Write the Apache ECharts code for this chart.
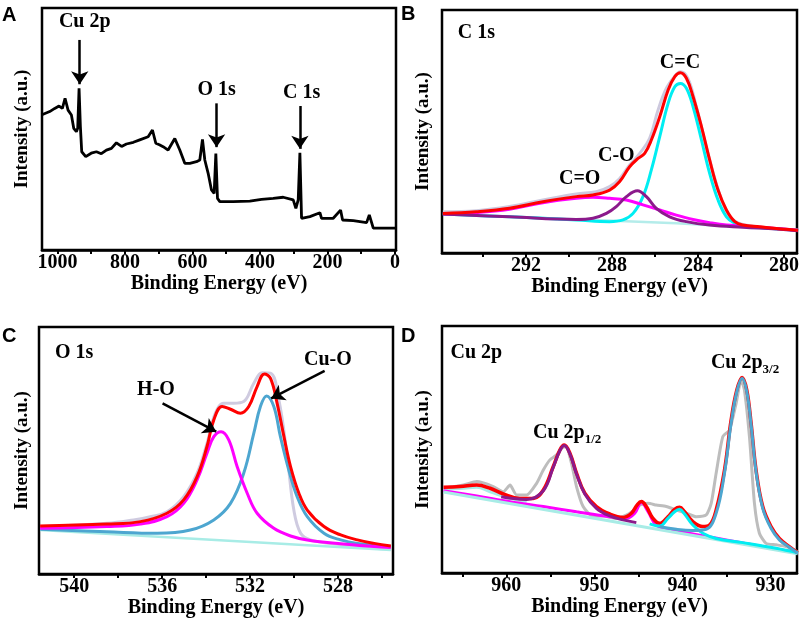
<!DOCTYPE html>
<html>
<head>
<meta charset="utf-8">
<script src="https://cdn.jsdelivr.net/npm/echarts@6/dist/echarts.min.js"></script>
<style>
  html, body { margin: 0; padding: 0; background: #fff; }
  #chart { width: 803px; height: 621px; }
</style>
</head>
<body>
<div id="chart"></div>
<script>
// ---- (A) survey spectrum: [binding energy, intensity] ----
var survey = [
    [1047.6, 55.8], [1022.9, 57.2], [1008.0, 58.5], [995.2, 59.5], [985.3, 58.5], [977.4, 62.7],
    [968.5, 57.8], [958.6, 55.8], [951.7, 50.3], [943.8, 48.9], [939.9, 50.3], [935.9, 66.8],
    [932.0, 51.0], [928.0, 40.6], [916.1, 38.6], [900.0, 40.0], [884.5, 40.6], [870.0, 39.8],
    [854.9, 41.3], [840.0, 42.0], [825.2, 44.3], [810.0, 42.8], [795.6, 43.8], [775.0, 44.5],
    [756.1, 45.5], [731.3, 46.8], [718.5, 49.6], [708.6, 44.1], [698.0, 43.5], [686.9, 42.7],
    [672.1, 41.3], [652.3, 46.1], [637.5, 41.3], [622.7, 35.8], [607.8, 35.8], [588.1, 36.5],
    [578.2, 37.2], [570.3, 45.7], [563.4, 37.2], [553.5, 31.7], [543.6, 24.8], [535.7, 23.4],
    [530.7, 39.9], [525.8, 21.3], [518.9, 20.0], [479.4, 20.0], [430.0, 20.2], [395.4, 20.9],
    [360.8, 21.3], [331.1, 21.8], [301.5, 20.7], [293.6, 17.2], [286.7, 20.7], [281.7, 40.2],
    [276.8, 13.1], [252.1, 13.8], [222.4, 15.4], [217.5, 13.1], [182.9, 13.1], [161.2, 16.5],
    [155.2, 12.4], [123.6, 12.1], [84.1, 11.3], [76.1, 14.5], [64.3, 9.0], [0, 9.0]
];
var surveyTicks = [0, 100, 200, 300, 400, 500, 600, 700, 800, 900, 1000];
var surveyLabels = [0, 200, 400, 600, 800, 1000];

// ---- (B) C 1s ----
var c1sRaw = [
    [295.86, 17.0], [294.31, 17.4], [292.76, 19.1], [291.21, 21.8], [289.66, 24.3], [288.73, 25.2],
    [288.11, 27.3], [287.64, 30.7], [287.18, 36.2], [286.71, 41.0], [286.25, 47.2], [285.86, 58.8],
    [285.47, 67.8], [285.08, 72.8], [284.82, 74.6], [284.47, 71.9], [284.08, 60.2], [283.46, 38.3],
    [282.84, 20.4], [282.37, 13.6], [281.60, 11.2], [279.35, 9.4]
];
var c1sFit = [
    [295.86, 16.3], [294.31, 17.0], [292.76, 18.4], [291.21, 21.1], [289.66, 23.2], [288.88, 23.9],
    [288.11, 25.9], [287.64, 29.4], [287.18, 35.5], [286.79, 38.9], [286.48, 41.0], [286.17, 46.5],
    [285.78, 56.1], [285.39, 67.1], [285.08, 72.6], [284.82, 74.2], [284.54, 71.9], [284.23, 64.3],
    [283.84, 52.0], [283.46, 38.3], [283.07, 25.9], [282.68, 17.7], [282.29, 12.9], [281.91, 11.5],
    [281.13, 10.8], [280.36, 10.1], [279.35, 9.4]
];
var c1sCC = [
    [295.86, 16.0], [292.76, 14.9], [289.66, 13.6], [288.11, 12.9], [287.49, 13.6], [287.02, 16.3],
    [286.56, 23.2], [286.17, 34.2], [285.78, 47.9], [285.39, 61.6], [285.08, 68.4], [284.82, 69.8],
    [284.54, 67.8], [284.23, 60.2], [283.84, 46.5], [283.46, 32.8], [283.07, 21.8], [282.68, 14.9],
    [282.29, 12.2], [281.91, 11.2], [280.36, 10.0], [279.35, 9.4]
];
var c1sCO = [
    [295.86, 16.0], [292.76, 14.9], [289.66, 13.8], [288.88, 14.3], [288.26, 16.3], [287.80, 19.1],
    [287.33, 23.2], [286.82, 25.6], [286.40, 23.2], [285.94, 18.4], [285.32, 14.9], [284.54, 12.9],
    [283.46, 11.5], [281.91, 10.6], [280.36, 9.9], [279.35, 9.2]
];
var c1sCdO = [
    [295.86, 16.0], [294.31, 16.6], [292.76, 18.0], [291.21, 20.7], [289.66, 22.5], [288.88, 22.9],
    [288.11, 22.5], [287.33, 21.8], [286.56, 19.8], [285.78, 17.7], [285.01, 15.6], [284.23, 13.8],
    [283.46, 12.5], [282.68, 11.5], [281.91, 11.1], [280.36, 10.1], [279.35, 9.4]
];
var c1sBase = [[295.86, 16.0], [285.01, 12.2], [279.35, 9.4]];
var c1sTicks = [280, 282, 284, 286, 288, 290, 292, 294];
var c1sLabels = [280, 284, 288, 292];

// ---- (C) O 1s ----
var o1sRaw = [
    [541.55, 19.2], [538.51, 20.5], [537.30, 21.9], [536.54, 23.2], [535.78, 25.2], [535.02, 31.3],
    [534.41, 40.8], [533.96, 52.9], [533.58, 65.1], [533.20, 69.1], [532.74, 69.1], [532.29, 69.8],
    [531.83, 77.2], [531.45, 81.5], [531.07, 81.3], [530.69, 70.5], [530.31, 47.5], [530.01, 25.9],
    [529.70, 16.5], [529.25, 13.8], [527.88, 11.8], [526.36, 10.4], [525.60, 10.1]
];
var o1sFit = [
    [541.55, 19.4], [538.51, 20.2], [536.99, 21.2], [535.78, 24.6], [535.02, 30.0], [534.41, 39.4],
    [533.96, 51.6], [533.65, 62.4], [533.27, 67.8], [532.89, 66.7], [532.44, 65.1], [532.06, 67.8],
    [531.68, 75.9], [531.35, 81.0], [531.07, 79.2], [530.77, 69.1], [530.46, 55.6], [530.16, 43.5],
    [529.78, 32.7], [529.40, 25.9], [528.64, 19.2], [527.88, 15.8], [527.12, 13.8], [526.36, 12.4],
    [525.60, 11.3]
];
var o1sHO = [
    [541.55, 18.5], [538.51, 19.2], [536.99, 20.2], [535.78, 23.2], [535.02, 28.6], [534.41, 38.1],
    [533.96, 48.9], [533.65, 55.6], [533.32, 57.6], [532.97, 54.3], [532.59, 43.5], [532.13, 32.7],
    [531.68, 24.6], [530.92, 18.5], [530.16, 15.4], [529.40, 13.8], [527.88, 12.2], [526.36, 11.1],
    [525.60, 10.7]
];
var o1sCuO = [
    [541.55, 18.1], [538.51, 17.1], [536.23, 16.5], [534.72, 17.8], [533.65, 21.9], [532.89, 28.6],
    [532.29, 40.8], [531.83, 57.0], [531.53, 67.8], [531.25, 72.1], [530.92, 67.8], [530.62, 55.6],
    [530.24, 42.1], [529.86, 31.3], [529.40, 23.2], [528.64, 16.5], [527.88, 13.8], [527.12, 12.4],
    [525.60, 11.1]
];
var o1sBase = [[541.55, 17.8], [525.60, 9.7]];
var o1sTicks = [526, 528, 530, 532, 534, 536, 538, 540];
var o1sLabels = [528, 532, 536, 540];

// ---- (D) Cu 2p ----
var cu2pRaw = [
    [967.13, 34.3], [964.86, 35.6], [963.36, 37.0], [961.47, 35.0], [960.34, 32.9], [959.58, 35.6],
    [958.83, 31.6], [957.69, 31.6], [956.56, 36.3], [955.80, 41.7], [955.05, 45.8], [954.29, 47.8],
    [953.73, 50.5], [953.24, 51.2], [952.60, 44.4], [952.03, 35.0], [951.28, 26.9], [950.14, 22.8],
    [949.01, 23.1], [947.50, 22.1], [945.99, 24.2], [944.86, 27.5], [943.91, 28.2], [942.97, 27.5],
    [941.84, 26.9], [940.70, 25.5], [939.57, 24.2], [938.44, 22.8], [937.31, 23.5], [936.74, 28.2],
    [936.18, 40.4], [935.42, 55.2], [934.66, 57.9], [933.91, 68.7], [933.34, 78.1], [932.97, 74.1],
    [932.40, 55.2], [931.83, 28.2], [931.27, 16.1], [930.51, 12.0], [929.38, 11.4], [928.25, 10.7],
    [926.93, 8.6]
];
var cu2pFit = [
    [967.13, 34.7], [965.24, 35.0], [963.36, 35.6], [961.84, 34.3], [960.34, 32.0], [958.45, 30.2],
    [956.94, 30.2], [955.80, 33.6], [954.67, 43.1], [953.92, 49.8], [953.43, 51.8], [952.78, 48.5],
    [952.03, 40.4], [951.09, 32.3], [949.77, 26.9], [948.26, 23.9], [946.74, 22.5], [945.80, 24.2],
    [945.16, 27.5], [944.67, 28.9], [944.10, 26.9], [943.35, 22.1], [942.59, 20.1], [941.65, 22.8],
    [940.89, 25.8], [940.33, 26.6], [939.76, 24.8], [938.82, 20.8], [937.69, 18.8], [936.93, 19.4],
    [936.18, 25.5], [935.23, 41.7], [934.48, 61.9], [933.83, 74.1], [933.23, 79.2], [932.70, 74.1],
    [932.21, 60.6], [931.65, 41.7], [930.89, 26.9], [929.95, 18.8], [929.00, 14.0], [927.87, 10.7],
    [926.93, 8.2]
];
var cu2pHalf = [
    [960.58, 30.9], [957.69, 29.8], [955.80, 33.3], [954.67, 42.8], [953.92, 49.5], [953.43, 51.6],
    [952.78, 48.2], [952.03, 40.1], [951.09, 32.0], [949.77, 26.2], [948.26, 23.1], [946.74, 21.5],
    [945.24, 20.4]
];
var cu2pSat1 = [
    [967.13, 33.3], [963.36, 31.2], [959.58, 28.9], [955.80, 26.9], [952.03, 24.8], [948.26, 22.8],
    [946.36, 22.1], [945.42, 24.2], [944.67, 28.5], [943.91, 24.8], [942.97, 19.4], [941.46, 17.7],
    [938.82, 15.8], [935.05, 13.4], [931.27, 10.9], [926.93, 8.2]
];
var cu2pSat2 = [
    [943.72, 19.9], [942.59, 19.0], [941.65, 22.1], [940.89, 24.8], [940.33, 25.8], [939.76, 23.9],
    [938.82, 19.4], [937.69, 16.1], [936.18, 14.0], [933.16, 12.3], [929.38, 10.0], [926.93, 8.2]
];
var cu2pThree = [
    [942.59, 18.8], [940.70, 17.7], [938.82, 17.2], [937.31, 17.7], [936.18, 24.2], [935.23, 40.4],
    [934.48, 60.6], [933.83, 73.4], [933.23, 78.8], [932.70, 73.4], [932.21, 59.9], [931.65, 41.0],
    [930.89, 26.2], [929.95, 18.1], [929.00, 13.4], [927.87, 10.4], [926.93, 8.0]
];
var cu2pSat3 = [[967.13, 33.9], [964.86, 34.3], [963.36, 34.7], [961.84, 32.9], [959.58, 30.2], [957.69, 28.9]];
var cu2pBase = [[967.13, 32.8], [926.93, 7.8]];
var cu2pTicks = [930, 935, 940, 945, 950, 955, 960, 965];
var cu2pLabels = [930, 940, 950, 960];

var serif = 'Liberation Serif';
var black = '#000';

var dom = document.getElementById('chart');
var myChart = echarts.init(dom);

var grids = [
    { left: 42, top: 8, width: 354, height: 242 },
    { left: 442, top: 10, width: 355, height: 243 },
    { left: 39, top: 327, width: 354, height: 247 },
    { left: 442, top: 326, width: 355, height: 247 }
];
grids.forEach(function (g) {
    g.show = true;
    g.borderColor = black;
    g.borderWidth = 2.5;
    g.backgroundColor = 'transparent';
});

var xRanges = [[-3, 1045.7], [279.4, 295.9], [525.5, 541.6], [927.0, 967.3]];
var tickSets = [surveyTicks, c1sTicks, o1sTicks, cu2pTicks];
var labelSets = [surveyLabels, c1sLabels, o1sLabels, cu2pLabels];
var nameGaps = [22, 19, 17, 17];
var yGaps = [10, 9, 7, 9];

var xAxes = xRanges.map(function (r, i) {
    return {
        type: 'value', gridIndex: i, inverse: true, min: r[0], max: r[1],
        name: 'Binding Energy (eV)', nameLocation: 'middle', nameGap: nameGaps[i],
        nameTextStyle: { fontFamily: serif, fontWeight: 'bold', fontSize: 20, color: black },
        axisLine: { show: true, onZero: false, lineStyle: { color: black, width: 2.5 } },
        axisTick: { show: true, inside: false, length: 4, customValues: tickSets[i], lineStyle: { color: black, width: 2 } },
        axisLabel: {
            show: true, margin: 3, customValues: labelSets[i],
            formatter: function (v) { return String(v); },
            fontFamily: serif, fontWeight: 'bold', fontSize: 20, color: black
        },
        splitLine: { show: false }
    };
});
var yAxes = grids.map(function (g, i) {
    return {
        type: 'value', gridIndex: i, min: 0, max: 100,
        name: 'Intensity (a.u.)', nameLocation: 'middle', nameGap: yGaps[i],
        nameTextStyle: { fontFamily: serif, fontWeight: 'bold', fontSize: 19, color: black },
        axisLine: { show: false }, axisTick: { show: false }, axisLabel: { show: false },
        splitLine: { show: false }
    };
});

function line(idx, data, color, width, smooth) {
    return {
        type: 'line', xAxisIndex: idx, yAxisIndex: idx, data: data,
        showSymbol: false, smooth: smooth === undefined ? 0.4 : smooth,
        lineStyle: { color: color, width: width }, itemStyle: { color: color },
        silent: true, animation: false
    };
}
function arrows(list) {
    return {
        silent: true, animation: false, symbol: ['none', 'arrow'], symbolSize: 13,
        lineStyle: { color: black, width: 2.5, type: 'solid' }, label: { show: false },
        data: list.map(function (a) { return [{ coord: a[0] }, { coord: a[1] }]; })
    };
}
function texts(list, rich) {
    return {
        silent: true, animation: false, symbol: 'circle', symbolSize: 1,
        itemStyle: { color: 'rgba(0,0,0,0)' },
        label: {
            show: true, position: 'inside', formatter: function (p) { return p.name; },
            fontFamily: serif, fontWeight: 'bold', fontSize: 20, color: black, rich: rich || {}
        },
        data: list.map(function (t) { return { name: t[0], coord: t[1] }; })
    };
}
var subRich = {
    m: { fontFamily: serif, fontWeight: 'bold', fontSize: 20, color: black, lineHeight: 26 },
    s: { fontFamily: serif, fontWeight: 'bold', fontSize: 13, color: black, verticalAlign: 'bottom', lineHeight: 12 }
};

// panel A
var sA = line(0, survey, black, 2.8, false);
sA.markLine = arrows([
    [[933.9, 86.8], [933.9, 68.5]],
    [[528.6, 60.6], [528.6, 42.5]],
    [[281.7, 59.5], [281.7, 41.8]]
]);
sA.markPoint = texts([['Cu 2p', [919, 94.3]], ['O 1s', [528.6, 66.1]], ['C 1s', [276.6, 65.0]]]);

// panel B
var sBfit = line(1, c1sFit, '#ff0000', 3);
sBfit.markPoint = texts([['C 1s', [294.3, 90.5]], ['C=C', [284.84, 78.2]], ['C-O', [287.8, 40.0]], ['C=O', [289.5, 30.7]]]);

// panel C
var sCfit = line(2, o1sFit, '#ff0000', 3);
sCfit.markLine = arrows([
    [[535.98, 69.1], [533.54, 57.6]],
    [[528.61, 82.2], [531.04, 71.1]]
]);
sCfit.markPoint = texts([['O 1s', [540.0, 89.4]], ['H-O', [536.28, 74.5]], ['Cu-O', [528.46, 86.6]]]);

// panel D
var sDfit = line(3, cu2pFit, '#ff0000', 3.5);
var sDlab = line(3, [], '#000', 1);
sDlab.markPoint = texts([
    ['Cu 2p', [963.4, 89.1]],
    ['{m|Cu 2p}{s|1/2}', [953.1, 56.6]],
    ['{m|Cu 2p}{s|3/2}', [932.9, 84.9]]
], subRich);

option = {
    backgroundColor: '#fff',
    animation: false,
    grid: grids,
    xAxis: xAxes,
    yAxis: yAxes,
    graphic: [
        { type: 'text', left: 2, top: 5, style: { text: 'A', fontFamily: 'Liberation Sans', fontWeight: 'bold', fontSize: 20, fill: black } },
        { type: 'text', left: 401, top: 4, style: { text: 'B', fontFamily: 'Liberation Sans', fontWeight: 'bold', fontSize: 20, fill: black } },
        { type: 'text', left: 2, top: 326, style: { text: 'C', fontFamily: 'Liberation Sans', fontWeight: 'bold', fontSize: 20, fill: black } },
        { type: 'text', left: 401, top: 326, style: { text: 'D', fontFamily: 'Liberation Sans', fontWeight: 'bold', fontSize: 20, fill: black } }
    ],
    series: [
        sA,
        line(1, c1sRaw, '#cdc9de', 3),
        line(1, c1sBase, '#b4ecea', 2.5, false),
        line(1, c1sCC, '#00eef2', 3),
        line(1, c1sCdO, '#ff00ff', 3),
        line(1, c1sCO, '#8b1a8b', 3),
        sBfit,
        line(2, o1sRaw, '#cfcbe0', 3),
        line(2, o1sBase, '#a8ece6', 2.5, false),
        line(2, o1sCuO, '#4da6d0', 3),
        line(2, o1sHO, '#ff00ff', 3),
        sCfit,
        line(3, cu2pRaw, '#bdbdbd', 3, 0.2),
        line(3, cu2pSat3, '#a8ece6', 3),
        line(3, cu2pSat1, '#ff00ff', 3),
        line(3, cu2pBase, '#a8ece6', 3, false),
        sDfit,
        line(3, cu2pHalf, '#8b1a8b', 3),
        line(3, cu2pSat2, '#00eef2', 3),
        line(3, cu2pThree, '#4da6d0', 3),
        sDlab
    ]
};
myChart.setOption(option, true);
</script>
</body>
</html>
